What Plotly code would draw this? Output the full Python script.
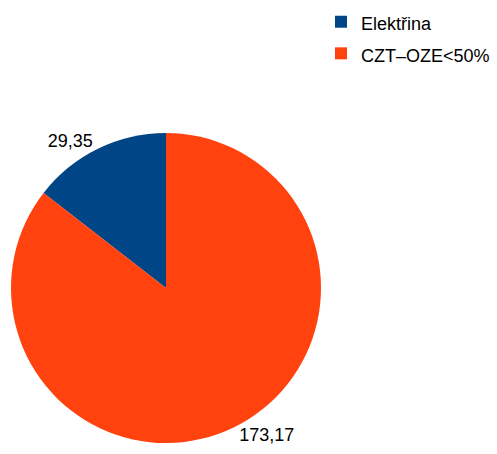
import plotly.graph_objects as go

labels = ["Elektřina", "CZT–OZE<50%"]
values = [29.35, 173.17]
colors = ["#004586", "#ff420e"]
text_labels = [f"{v:.2f}".replace(".", ",") for v in values]

# first slice ends at 12 o'clock, going clockwise (i.e. it lies just left of the top)
start_rotation = -360.0 * values[0] / sum(values)
legend_names = [f"<span style='font-size:18px'>{l}</span>" for l in labels]

fig = go.Figure(go.Pie(
    labels=legend_names,
    values=values,
    marker=dict(colors=colors, line=dict(width=0)),
    sort=False,
    direction="clockwise",
    rotation=start_rotation,
    text=text_labels,
    textinfo="text",
    textposition="outside",
    outsidetextfont=dict(size=18, color="#000000"),
    hoverinfo="label+value",
    showlegend=True,
    automargin=False,
))

fig.update_layout(
    width=497, height=454,
    margin=dict(l=11, r=176, t=133, b=11, autoexpand=False),
    paper_bgcolor="white",
    plot_bgcolor="white",
    font=dict(family="Liberation Sans", size=18, color="#000000"),
    legend=dict(x=1.0, y=1.426, xanchor="left", yanchor="top",
                font=dict(size=22), itemwidth=30),
)

fig.write_html("out.html", config={"displayModeBar": False},
               post_script="document.body.style.margin='0';")
